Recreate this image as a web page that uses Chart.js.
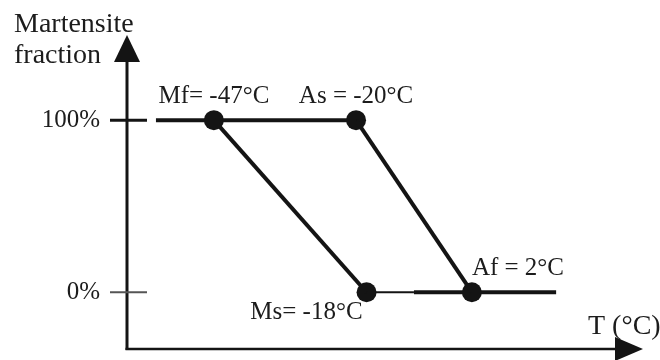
<!DOCTYPE html>
<html lang="en-US">
<head>
  <meta charset="utf-8">
  <title>Martensite fraction vs temperature</title>
  <script src="https://cdn.jsdelivr.net/npm/chart.js@4.4.1/dist/chart.umd.min.js"></script>
  <style>
  html, body { margin: 0; padding: 0; background: #fff; }
  #holder { width: 660px; height: 360px; }
  </style>
</head>

<body>
  <div id="holder">
  <canvas id="chart" width="660" height="360"></canvas>
  </div>
  <script>
    // transformation temperatures (°C) and martensite fraction (%) at each one
    var pointNames = ['Mf', 'As', 'Ms', 'Af'];
    var nameSeps = ['= ', ' = ', '= ', ' = '];
    var pointTemps = [-47, -20, -18, 2];
    var pointFractions = [100, 100, 0, 0];
    var fractionTicks = [0, 100];

    // plateau ends (°C)
    var upperPlateau = [-58, -20];
    var lowerThin = [-18, -9];
    var lowerPlateau = [-9, 18];

    var ink = '#141414';
    var serif = '"Liberation Serif", "Times New Roman", serif';

    var seg = function (t0, f0, t1, f1) {
      return [{ x: t0, y: f0 }, { x: t1, y: f1 }];
    };

    var lineSet = function (data, width) {
      return {
        data: data,
        showLine: true,
        borderColor: ink,
        borderWidth: width,
        pointRadius: 0,
        borderCapStyle: 'butt'
      };
    };

    var points = pointTemps.map(function (t, i) {
      return { x: t, y: pointFractions[i] };
    });

    // axes, arrows, ticks and titles
    var decor = {
      id: 'decor',
      beforeDatasetsDraw: function (chart) {
        var ctx = chart.ctx;
        var a = chart.chartArea;
        var y = chart.scales.y;
        ctx.save();
        ctx.strokeStyle = ink;
        ctx.fillStyle = ink;

        ctx.lineWidth = 3;
        ctx.beginPath();
        ctx.moveTo(a.left, a.bottom + 1);
        ctx.lineTo(a.left, a.top + 24);
        ctx.stroke();
        ctx.beginPath();
        ctx.moveTo(a.left, a.top);
        ctx.lineTo(a.left - 13, a.top + 27);
        ctx.lineTo(a.left + 13, a.top + 27);
        ctx.closePath();
        ctx.fill();

        ctx.fillStyle = '#1c1c1c';
        ctx.font = '28px ' + serif;
        ctx.textAlign = 'left';
        ctx.textBaseline = 'alphabetic';
        ctx.fillText('Martensite', 14, 32);
        ctx.fillText('fraction', 14, 63);
        ctx.fillText('T (°C)', a.right - 55, a.bottom - 15);

        ctx.fillStyle = ink;
        ctx.lineWidth = 2.5;
        ctx.beginPath();
        ctx.moveTo(a.left - 1.5, a.bottom);
        ctx.lineTo(a.right - 26, a.bottom);
        ctx.stroke();
        ctx.beginPath();
        ctx.moveTo(a.right, a.bottom);
        ctx.lineTo(a.right - 28, a.bottom - 12);
        ctx.lineTo(a.right - 28, a.bottom + 12);
        ctx.closePath();
        ctx.fill();

        fractionTicks.forEach(function (v) {
          var py = y.getPixelForValue(v);
          ctx.lineWidth = v > 0 ? 3 : 2;
          ctx.strokeStyle = v > 0 ? ink : '#555';
          ctx.beginPath();
          ctx.moveTo(a.left - 17, py);
          ctx.lineTo(a.left + 20, py);
          ctx.stroke();
        });
        ctx.restore();
      },
      afterDatasetsDraw: function (chart) {
        var ctx = chart.ctx;
        var meta = chart.getDatasetMeta(chart.data.datasets.length - 1);
        ctx.save();
        ctx.fillStyle = '#1c1c1c';
        ctx.font = '25px ' + serif;
        ctx.textBaseline = 'alphabetic';
        meta.data.forEach(function (el, i) {
          var text = pointNames[i] + nameSeps[i] + pointTemps[i] + '°C';
          var tx = el.x, ty;
          if (pointFractions[i] > 0) {
            ctx.textAlign = 'center';
            ty = el.y - 17;
          } else if (i === 2) {
            ctx.textAlign = 'right';
            tx = el.x - 4;
            ty = el.y + 27;
          } else {
            ctx.textAlign = 'left';
            ty = el.y - 17;
          }
          ctx.fillText(text, tx, ty);
        });
        ctx.restore();
      }
    };

    var config = {
      type: 'scatter',
      data: {
        datasets: [
          lineSet(seg(upperPlateau[0], 100, upperPlateau[1], 100), 4),
          lineSet(seg(pointTemps[0], pointFractions[0], pointTemps[2], pointFractions[2]), 4),
          lineSet(seg(pointTemps[1], pointFractions[1], pointTemps[3], pointFractions[3]), 4),
          lineSet(seg(lowerThin[0], 0, lowerThin[1], 0), 2),
          lineSet(seg(lowerPlateau[0], 0, lowerPlateau[1], 0), 4),
          {
            data: points,
            pointRadius: 10,
            pointHoverRadius: 10,
            backgroundColor: ink,
            borderWidth: 0
          }
        ]
      },
      options: {
        responsive: false,
        animation: false,
        events: [],
        layout: {
          padding: { left: 0, top: 35, right: 17, bottom: 11 }
        },
        plugins: {
          legend: { display: false },
          tooltip: { enabled: false }
        },
        scales: {
          x: {
            type: 'linear',
            display: false,
            min: -63.5,
            max: 34.5
          },
          y: {
            type: 'linear',
            min: -33,
            max: 149.5,
            grid: { display: false, drawTicks: false },
            border: { display: false },
            afterBuildTicks: function (scale) {
              scale.ticks = fractionTicks.map(function (v) { return { value: v }; });
            },
            afterFit: function (scale) {
              // fixed gutter; labels never reach the plot edges
              scale.width = 127;
              scale.paddingTop = 0;
              scale.paddingBottom = 0;
            },
            ticks: {
              padding: 27,
              color: '#1c1c1c',
              font: { family: serif, size: 25 },
              callback: function (v) { return v + '%'; }
            }
          }
        }
      },
      plugins: [decor]
    };

    var ctx = document.getElementById('chart').getContext('2d');
    window.myChart = new Chart(ctx, config);
  </script>
</body>
</html>
